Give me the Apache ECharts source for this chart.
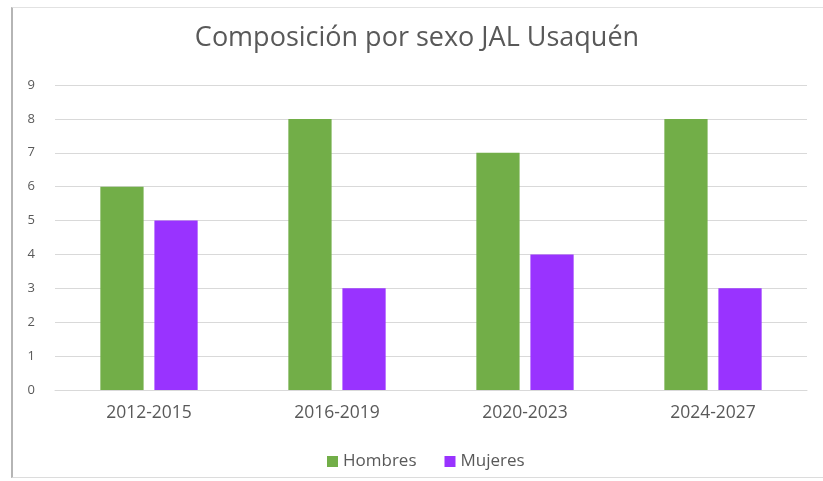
<!DOCTYPE html>
<html>
<head>
    <meta charset="utf-8">
    <title>Composición por sexo JAL Usaquén</title>
    <script src="https://cdn.jsdelivr.net/npm/echarts@6/dist/echarts.min.js"></script>
    <style>
        body { margin: 0; background: #fff; }
        #frame {
            position: absolute; left: 11px; top: 7px; width: 812px; height: 471px;
            border-left: 2px solid #b5b5b5; border-top: 1px solid #e2e2e2; border-bottom: 1px solid #dcdcdc;
            box-sizing: border-box; pointer-events: none;
        }
    </style>
</head>
<body>
    <div id="main" style="width: 823px;height:481px;"></div>
    <div id="frame"></div>
    <script type="text/javascript">
        var periodos = ['2012-2015', '2016-2019', '2020-2023', '2024-2027'];
        var hombres = [6, 8, 7, 8];
        var mujeres = [5, 3, 4, 3];

        var myChart = echarts.init(document.getElementById('main'));
        var fuente = '"Open Sans", "Noto Sans", sans-serif';

        var option = {
            animation: false,
            title: {
                text: 'Composición por sexo JAL Usaquén',
                left: 412,
                textAlign: 'center',
                top: 20,
                textStyle: { color: '#595959', fontSize: 27, fontWeight: 'normal', fontFamily: fuente }
            },
            legend: {
                bottom: 6,
                left: 322,
                itemWidth: 11,
                itemHeight: 11,
                itemGap: 28,
                icon: 'rect',
                textStyle: { color: '#595959', fontSize: 17, fontFamily: fuente }
            },
            grid: { left: 55, right: 16, top: 85, bottom: 91 },
            xAxis: {
                type: 'category',
                data: periodos,
                axisLine: { lineStyle: { color: '#d9d9d9' } },
                axisTick: { show: false },
                axisLabel: { color: '#595959', fontSize: 17.5, margin: 14, fontFamily: fuente }
            },
            yAxis: {
                type: 'value',
                min: 0,
                max: 9,
                interval: 1,
                axisLine: { show: false },
                axisTick: { show: false },
                axisLabel: { color: '#595959', fontSize: 13, margin: 20, fontFamily: fuente },
                splitLine: { lineStyle: { color: '#d9d9d9' } }
            },
            series: [
                {
                    name: 'Hombres',
                    type: 'bar',
                    data: hombres,
                    barWidth: '23%',
                    barGap: '25%',
                    itemStyle: { color: '#72AE48' }
                },
                {
                    name: 'Mujeres',
                    type: 'bar',
                    data: mujeres,
                    barWidth: '23%',
                    itemStyle: { color: '#9933FF' }
                }
            ]
        };

        myChart.setOption(option);
    </script>
</body>
</html>
